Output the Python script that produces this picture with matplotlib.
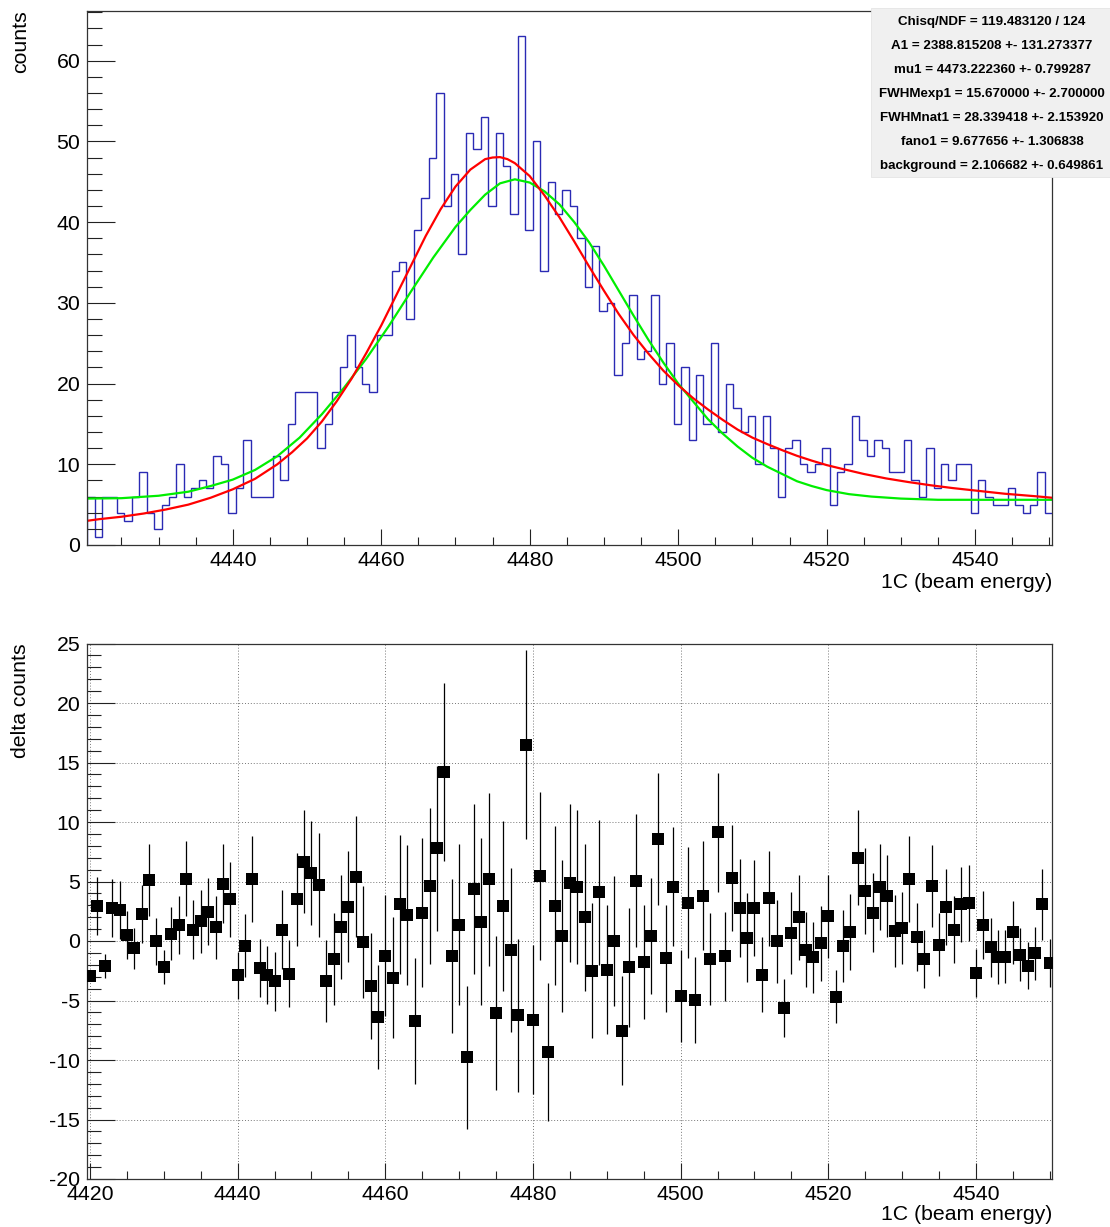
import numpy as np
import matplotlib
matplotlib.use("Agg")
import matplotlib.pyplot as plt
from matplotlib.patches import Rectangle
from matplotlib.ticker import MultipleLocator

plt.rcParams['font.family'] = ['Liberation Sans', 'DejaVu Sans']
plt.rcParams['axes.unicode_minus'] = False

# ---- data -------------------------------------------------------------
# bin centres of the beam-energy histogram (one count per unit)
energy = np.arange(4420, 4551)

counts = [
    0, 6, 1, 6, 6, 4, 3, 6, 9, 4,
    2, 5, 6, 10, 6, 7, 8, 7, 11, 10,
    4, 7, 13, 6, 6, 6, 11, 8, 15, 19,
    19, 19, 12, 15, 19, 22, 26, 22, 20, 19,
    26, 26, 34, 35, 28, 39, 43, 48, 56, 42,
    46, 36, 51, 49, 53, 42, 51, 47, 41, 63,
    39, 50, 34, 45, 41, 44, 42, 38, 32, 37,
    29, 30, 21, 25, 31, 23, 24, 31, 20, 25,
    15, 22, 13, 21, 15, 25, 14, 20, 17, 14,
    16, 10, 16, 12, 6, 12, 13, 10, 9, 10,
    12, 5, 9, 10, 16, 13, 11, 13, 12, 9,
    9, 13, 8, 6, 12, 7, 10, 8, 10, 10,
    4, 8, 6, 5, 5, 7, 5, 4, 5, 9,
    4,
]

residuals = [
    -2.95, 2.92, -2.13, 2.77, 2.62, 0.51, -0.60, 2.25, 5.11, -0.03,
    -2.19, 0.60, 1.35, 5.23, 0.96, 1.65, 2.46, 1.14, 4.81, 3.49,
    -2.89, -0.39, 5.23, -2.25, -2.83, -3.40, 0.96, -2.74, 3.49, 6.67,
    5.74, 4.72, -3.34, -1.53, 1.20, 2.89, 5.41, -0.09, -3.79, -6.40,
    -1.23, -3.07, 3.07, 2.19, -6.76, 2.37, 4.60, 7.81, 14.22, -1.29,
    1.38, -9.77, 4.36, 1.62, 5.17, -6.04, 2.98, -0.75, -6.25, 16.50,
    -6.61, 5.47, -9.32, 2.98, 0.42, 4.90, 4.51, 1.98, -2.49, 4.09,
    -2.40, 0.00, -7.55, -2.22, 5.08, -1.74, 0.42, 8.57, -1.47, 4.57,
    -4.60, 3.22, -4.96, 3.79, -1.53, 9.14, -1.29, 5.29, 2.77, 0.27,
    2.77, -2.83, 3.58, -0.03, -5.65, 0.66, 1.98, -0.72, -1.38, -0.18,
    2.07, -4.69, -0.42, 0.75, 7.00, 4.18, 2.37, 4.54, 3.76, 0.84,
    1.08, 5.23, 0.33, -1.53, 4.60, -0.30, 2.86, 0.96, 3.07, 3.19,
    -2.71, 1.35, -0.54, -1.35, -1.32, 0.75, -1.14, -2.07, -1.02, 3.07,
    -1.83,
]

# fitted line shape (red) sampled along the energy axis
fit_x = [4420.4, 4422, 4425, 4428, 4431, 4434, 4437, 4440, 4443, 4446,
         4448, 4450, 4452, 4454, 4456, 4458, 4460, 4462, 4464, 4466,
         4468, 4470, 4472, 4474, 4475, 4476, 4477, 4478, 4480, 4482,
         4484, 4486, 4488, 4490, 4492, 4494, 4496, 4498, 4500, 4502,
         4504, 4506, 4508, 4510, 4512, 4514, 4516, 4518, 4520, 4522,
         4525, 4528, 4531, 4534, 4537, 4540, 4544, 4548, 4550.4]
fit_y = [3.0, 3.2, 3.5, 3.9, 4.4, 5.0, 5.85, 6.9, 8.2, 10.0,
         11.5, 13.2, 15.3, 17.8, 20.6, 23.8, 27.2, 30.9, 34.6, 38.3,
         41.6, 44.4, 46.5, 47.8, 48.0, 48.05, 47.8, 47.3, 45.7, 43.3,
         40.6, 37.6, 34.5, 31.5, 28.6, 26.0, 23.7, 21.6, 19.8, 18.2,
         16.8, 15.5, 14.3, 13.3, 12.5, 11.75, 11.05, 10.45, 9.9, 9.45,
         8.8, 8.25, 7.8, 7.4, 7.05, 6.75, 6.35, 6.05, 5.85]

# comparison line shape (green)
gauss_x = [4420.4, 4425, 4430, 4434, 4437, 4440, 4443, 4446, 4449, 4452,
           4455, 4458, 4461, 4464, 4467, 4470, 4472, 4474, 4476, 4478,
           4480, 4482, 4484, 4486, 4488, 4490, 4492, 4494, 4496, 4498,
           4500, 4502, 4504, 4506, 4508, 4510, 4512, 4514, 4516, 4518,
           4520, 4523, 4526, 4530, 4535, 4540, 4545, 4550.4]
gauss_y = [5.75, 5.8, 6.1, 6.6, 7.3, 8.1, 9.3, 11.0, 13.3, 16.2,
           19.5, 23.1, 27.1, 31.4, 35.6, 39.4, 41.5, 43.4, 44.8, 45.3,
           44.9, 43.8, 42.2, 40.0, 37.5, 34.6, 31.5, 28.4, 25.4, 22.6,
           20.0, 17.8, 15.6, 13.8, 12.2, 10.8, 9.7, 8.8, 7.9, 7.3,
           6.8, 6.3, 6.0, 5.75, 5.6, 5.6, 5.6, 5.6]

fit_lines = [
    "Chisq/NDF = 119.483120 / 124",
    "A1 = 2388.815208 +- 131.273377",
    "mu1 = 4473.222360 +- 0.799287",
    "FWHMexp1 = 15.670000 +- 2.700000",
    "FWHMnat1 = 28.339418 +- 2.153920",
    "fano1 = 9.677656 +- 1.306838",
    "background = 2.106682 +- 0.649861",
]

# ---- figure -----------------------------------------------------------
W, H = 1110, 1227
fig = plt.figure(figsize=(W / 100, H / 100), dpi=100)


def px_axes(left, top, right, bottom):
    return fig.add_axes([left / W, 1 - bottom / H, (right - left) / W, (bottom - top) / H])


ax1 = px_axes(87.3, 11, 1052.3, 545)
ax2 = px_axes(87.3, 643.5, 1052.3, 1179)

FS = 15.3


def root_style(ax, ymaj_len=20.5, ymin_len=10.5, xmaj_len=11.5, xmin_len=5.8):
    for sp in ax.spines.values():
        sp.set_linewidth(0.9)
        sp.set_color('#333333')
    ax.tick_params(axis='both', which='both', direction='in', top=False, right=False,
                   width=0.8, color='#222222', labelsize=FS)
    ax.tick_params(axis='y', which='major', length=ymaj_len, pad=5)
    ax.tick_params(axis='y', which='minor', length=ymin_len)
    ax.tick_params(axis='x', which='major', length=xmaj_len, pad=4)
    ax.tick_params(axis='x', which='minor', length=xmin_len)


# upper panel: histogram with the two line shapes
edges = np.append(energy - 0.6, energy[-1] + 0.4)
ax1.stairs(counts, edges, baseline=None, color='#2a2ab4', linewidth=1.0)
ax1.plot(gauss_x, gauss_y, color='#00ee00', linewidth=1.6)
ax1.plot(fit_x, fit_y, color='#ff0000', linewidth=1.6)
ax1.set_xlim(4420.4, 4550.4)
ax1.set_ylim(0, 66.15)
ax1.xaxis.set_major_locator(MultipleLocator(20))
ax1.xaxis.set_minor_locator(MultipleLocator(5))
ax1.yaxis.set_major_locator(MultipleLocator(10))
ax1.yaxis.set_minor_locator(MultipleLocator(2))
root_style(ax1)

# lower panel: residuals with Poisson errors
ax2.errorbar(energy, residuals, yerr=np.sqrt(counts), fmt='s', color='black',
             markersize=8.8, markeredgewidth=0, elinewidth=0.9, capsize=1.6,
             capthick=0.8, zorder=3)
ax2.set_xlim(4419.63, 4550.35)
ax2.set_ylim(-20, 25)
ax2.xaxis.set_major_locator(MultipleLocator(20))
ax2.xaxis.set_minor_locator(MultipleLocator(5))
ax2.yaxis.set_major_locator(MultipleLocator(5))
ax2.yaxis.set_minor_locator(MultipleLocator(1))
ax2.grid(True, which='major', color='#777777', linestyle=(0, (1, 2)), linewidth=0.7)
ax2.set_axisbelow(True)
root_style(ax2, ymaj_len=20.5, ymin_len=10.0, xmaj_len=11.5, xmin_len=6.0)

# axis titles placed at the axis ends
fig.text(21 / W, 1 - 10 / H, 'counts', rotation=90, ha='center', va='top', fontsize=FS)
fig.text(21 / W, 1 - 643 / H, 'delta counts', rotation=90, ha='center', va='top', fontsize=FS)
fig.text(1052 / W, 1 - 583 / H, '1C (beam energy)', ha='right', va='center', fontsize=FS)
fig.text(1052 / W, 1 - 1215 / H, '1C (beam energy)', ha='right', va='center', fontsize=FS)

# fit results box
box_l, box_t, box_r, box_b = 871, 8, 1110, 177
fig.add_artist(Rectangle((box_l / W, 1 - box_b / H), (box_r - box_l) / W, (box_b - box_t) / H,
                         transform=fig.transFigure, facecolor='#f0f0f0',
                         edgecolor='#e4e4e4', linewidth=0.6, zorder=5))
for i, line in enumerate(fit_lines):
    fig.text(992 / W, 1 - (22 + 24 * i) / H, line, ha='center', va='center',
             fontsize=9.6, fontweight='bold', zorder=6)

fig.savefig('out.png', dpi=100)
